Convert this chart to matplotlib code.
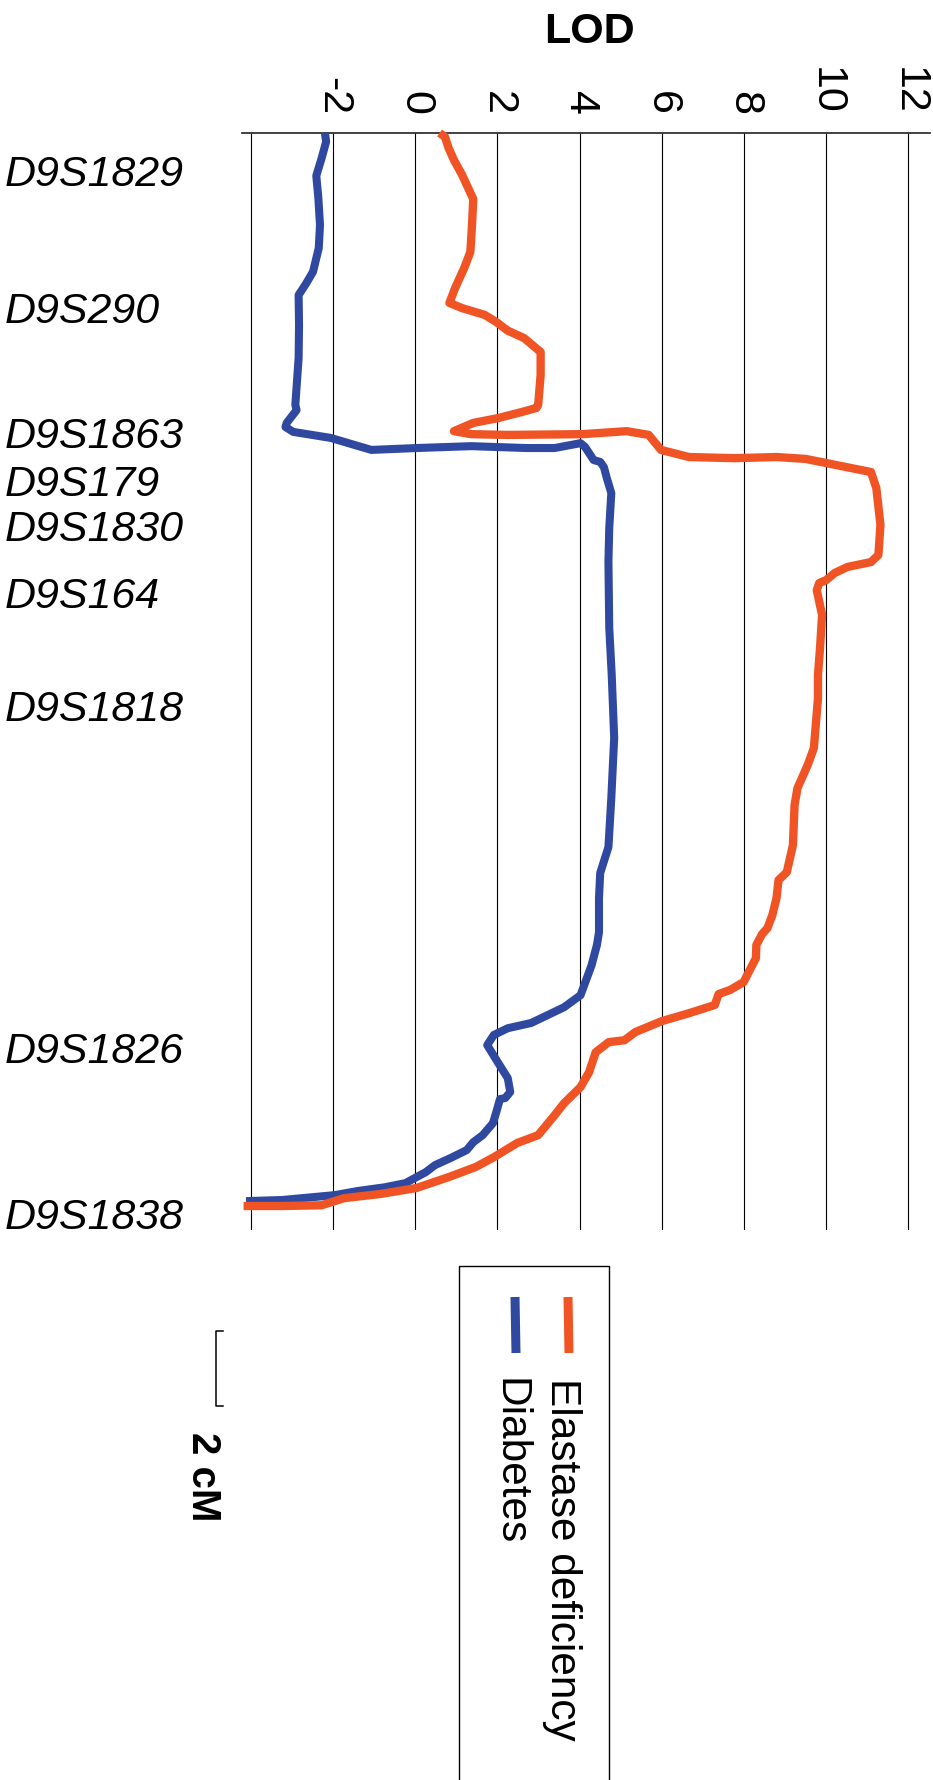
import matplotlib.pyplot as plt
import matplotlib.transforms as mtransforms
from matplotlib.patches import Rectangle

plt.rcParams['font.family'] = ['Liberation Sans', 'DejaVu Sans']

# Markers along the chromosome (position in cM from the top of the map)
marker_names = ['D9S1829', 'D9S290', 'D9S1863', 'D9S179', 'D9S1830',
                'D9S164', 'D9S1818', 'D9S1826', 'D9S1838']
marker_pos = [0.99, 4.64, 7.97, 9.25, 10.45, 12.24, 15.25, 24.37, 28.80]

lod_ticks = [-4, -2, 0, 2, 4, 6, 8, 10, 12]
lod_tick_labels = ['', '-2', '0', '2', '4', '6', '8', '10', '12']

# Diabetes LOD profile
diab_pos = [0.00, 0.23, 0.67, 1.14, 1.73, 2.45, 3.07, 3.70, 4.00, 4.32,
            5.12, 6.00, 7.25, 7.39, 7.73, 7.84, 7.97, 8.13, 8.45, 8.40,
            8.35, 8.40, 8.40, 8.27, 8.37, 8.72, 8.77, 8.91, 9.20, 9.60,
            10.53, 11.44, 13.20, 14.45, 16.13, 17.73, 19.04, 19.73, 20.40, 21.31,
            21.65, 22.19, 22.99, 23.31, 23.73, 23.87, 24.05, 24.32, 24.80, 25.20,
            25.57, 25.73, 25.76, 26.11, 26.40, 26.72, 26.91, 27.12, 27.33, 27.52,
            27.71, 27.84, 28.00, 28.11, 28.21, 28.32, 28.45, 28.48]
diab_lod = [-2.20, -2.17, -2.28, -2.41, -2.36, -2.32, -2.35, -2.49, -2.65, -2.84,
            -2.83, -2.84, -2.92, -2.89, -3.13, -3.16, -2.97, -2.06, -1.07, 0.03,
            1.36, 2.71, 3.39, 4.02, 4.13, 4.34, 4.50, 4.59, 4.66, 4.77,
            4.72, 4.70, 4.72, 4.78, 4.84, 4.77, 4.70, 4.50, 4.47, 4.47,
            4.42, 4.29, 4.02, 3.62, 2.82, 2.25, 1.91, 1.75, 2.02, 2.25,
            2.31, 2.19, 2.06, 1.97, 1.89, 1.64, 1.41, 1.25, 0.86, 0.48,
            0.25, 0.03, -0.24, -0.74, -1.40, -1.96, -3.24, -4.12]

# Elastase deficiency LOD profile
elas_pos = [0.00, 0.10, 0.40, 0.72, 1.12, 1.76, 2.45, 3.17, 3.60, 4.13,
            4.53, 4.67, 4.85, 5.04, 5.27, 5.47, 5.84, 6.45, 7.25, 7.33,
            7.44, 7.60, 7.73, 7.95, 8.03, 8.05, 8.03, 7.95, 8.05, 8.45,
            8.64, 8.67, 8.64, 8.69, 8.80, 9.04, 9.47, 10.45, 11.25, 11.44,
            11.57, 11.73, 11.92, 12.00, 12.19, 12.85, 13.73, 14.45, 15.07, 16.40,
            16.85, 17.47, 17.92, 18.99, 19.71, 19.92, 20.40, 20.85, 21.20, 21.36,
            21.65, 22.00, 22.64, 22.85, 22.96, 23.25, 23.47, 23.68, 23.97, 24.19,
            24.24, 24.51, 25.04, 25.44, 25.87, 26.19, 26.72, 26.93, 27.31, 27.57,
            27.84, 28.13, 28.29, 28.40, 28.59, 28.61, 28.61]
elas_lod = [0.59, 0.72, 0.81, 0.94, 1.14, 1.41, 1.38, 1.34, 1.19, 0.97,
            0.83, 1.14, 1.69, 1.97, 2.25, 2.65, 3.05, 3.05, 2.99, 2.95,
            2.59, 2.02, 1.41, 0.94, 1.36, 2.25, 4.07, 5.14, 5.68, 5.98,
            6.66, 7.77, 8.79, 9.50, 10.00, 11.09, 11.22, 11.32, 11.27, 11.09,
            10.52, 10.21, 10.00, 9.83, 9.77, 9.90, 9.85, 9.80, 9.80, 9.70,
            9.55, 9.30, 9.23, 9.19, 9.04, 8.84, 8.79, 8.69, 8.57, 8.44,
            8.30, 8.29, 7.99, 7.66, 7.38, 7.29, 6.66, 6.00, 5.36, 5.09,
            4.71, 4.39, 4.23, 4.02, 3.62, 3.39, 2.99, 2.48, 1.91, 1.47,
            0.81, 0.03, -0.85, -1.73, -2.28, -3.24, -4.18]

BLUE = '#2F48A0'
ORANGE = '#F15424'
W, H = 933, 1780


def fx(px):
    return px / W


def fy(py):
    return 1 - py / H


fig = plt.figure(figsize=(W / 100, H / 100), dpi=100)
ax = fig.add_axes([fx(242), fy(1230), 688 / W, 1097 / H])

ax.plot(diab_lod, diab_pos, color=BLUE, lw=5.8, solid_capstyle='butt',
        solid_joinstyle='round', zorder=3, clip_on=False)
ax.plot(elas_lod, elas_pos, color=ORANGE, lw=6.0, solid_capstyle='butt',
        solid_joinstyle='round', zorder=4, clip_on=False)

ax.set_xlim(-4.218, 12.526)
ax.set_ylim(29.25, 0)
ax.set_xticks(lod_ticks)
ax.set_xticklabels(lod_tick_labels)
ax.xaxis.tick_top()
ax.tick_params(axis='x', length=0, pad=13, labelsize=31, labelrotation=-90)
ax.set_yticks([])
ax.grid(axis='x', color='black', lw=0.8)
ax.set_axisbelow(True)
for side in ['left', 'right', 'bottom']:
    ax.spines[side].set_visible(False)
ax.spines['top'].set_color('#333333')
ax.spines['top'].set_linewidth(1.3)

fig.text(fx(589), fy(32), 'LOD', fontsize=31, fontweight='bold',
         ha='center', va='center')

# marker names down the left side
trans_lab = mtransforms.blended_transform_factory(fig.transFigure, ax.transData)
trans_lab = mtransforms.offset_copy(trans_lab, fig=fig, y=-3.5, units='points')
for name, pos in zip(marker_names, marker_pos):
    ax.text(fx(5), pos, name, transform=trans_lab, fontsize=31,
            style='italic', ha='left', va='center')

# 2 cM scale bar
ax.plot([-4.68, -4.85, -4.85, -4.68], [31.95, 31.95, 33.95, 33.95],
        color='black', lw=1.1, clip_on=False)
fig.text(fx(203), fy(1432), '2 cM', fontsize=29, fontweight='bold',
         rotation=-90, ha='center', va='top')

# legend box
fig.patches.append(Rectangle((fx(459), -0.01), 150 / W, fy(1266) + 0.01,
                             fill=False, ec='black', lw=1.0,
                             transform=fig.transFigure))
fig.add_artist(plt.Line2D([fx(568), fx(569)], [fy(1297), fy(1353)],
                          color=ORANGE, lw=6.5, solid_capstyle='butt'))
fig.add_artist(plt.Line2D([fx(515), fx(516)], [fy(1297), fy(1353)],
                          color=BLUE, lw=6.5, solid_capstyle='butt'))
fig.text(fx(562), fy(1378), 'Elastase deficiency', fontsize=30.5,
         rotation=-90, ha='center', va='top')
fig.text(fx(509), fy(1378), 'Diabetes', fontsize=30.5,
         rotation=-90, ha='center', va='top')

fig.savefig('out.png', dpi=100)
